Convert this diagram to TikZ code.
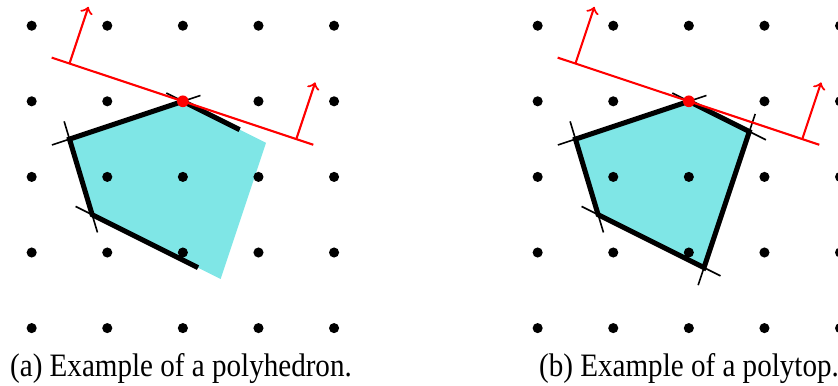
\documentclass[tikz,border=0pt]{standalone}
\usepackage{fontspec}
\setmainfont{Liberation Serif}[FakeStretch=0.89]
\usetikzlibrary{calc}
\definecolor{polyfill}{RGB}{127,230,230}
\tikzset{
  gridpt/.style={fill=black},
  thinline/.style={line width=0.6pt, black},
  edgeline/.style={line width=1.9pt, black},
  halfspace/.style={line width=0.8pt, red},
  normalarrow/.style={line width=0.8pt, red, ->},
  caption/.style={anchor=base, inner sep=0pt, font=\fontsize{12.3}{14}\selectfont},
}
\newcommand{\ext}{0.245cm}
\begin{document}
\begin{tikzpicture}
\useasboundingbox (0,0) rectangle (11.085,-5.093);

% ---------------- left panel: polyhedron ----------------
\begin{scope}[shift={(0.419,-4.340)}]
  \coordinate (aT) at (2,3);
  \coordinate (aL) at (0.5,2.5);
  \coordinate (aLL) at (0.8,1.5);
  \coordinate (aB) at (2.2,0.8);
  \coordinate (aR) at (2.75,2.625);
  \coordinate (aFR) at (3.1,2.45);
  \coordinate (aFB) at (2.5,0.65);
  \fill[polyfill] (aT) -- (aFR) -- (aFB) -- (aLL) -- (aL) -- cycle;
  \foreach \i in {0,...,4} \foreach \j in {0,...,4}
    \fill[gridpt] (\i,\j) circle (1.9pt);
  \draw[thinline] ($(aL)!-\ext!(aT)$) -- ($(aT)!-\ext!(aL)$);
  \draw[thinline] ($(aT)!-\ext!(aR)$) -- (aR);
  \draw[thinline] ($(aL)!-\ext!(aLL)$) -- ($(aLL)!-\ext!(aL)$);
  \draw[thinline] ($(aLL)!-\ext!(aB)$) -- (aB);
  \draw[edgeline] (aR) -- (aT) -- (aL) -- (aLL) -- (aB);
  \coordinate (aH1) at (0.265,3.578);
  \coordinate (aH2) at (3.725,2.425);
  \draw[halfspace] (aH1) -- (aH2);
  \coordinate (aN1) at (0.5,3.5);
  \coordinate (aN1t) at (0.75,4.25);
  \coordinate (aN2) at (3.5,2.5);
  \coordinate (aN2t) at (3.75,3.25);
  \draw[normalarrow] (aN1) -- (aN1t);
  \draw[normalarrow] (aN2) -- (aN2t);
  \fill[red] (aT) circle (2.2pt);
\end{scope}

% ---------------- right panel: polytope ----------------
\begin{scope}[shift={(7.112,-4.340)}]
  \coordinate (bT) at (2,3);
  \coordinate (bR) at (2.8,2.6);
  \coordinate (bB) at (2.2,0.8);
  \coordinate (bLL) at (0.8,1.5);
  \coordinate (bL) at (0.5,2.5);
  \fill[polyfill] (bT) -- (bR) -- (bB) -- (bLL) -- (bL) -- cycle;
  \foreach \i in {0,...,4} \foreach \j in {0,...,4}
    \fill[gridpt] (\i,\j) circle (1.9pt);
  \draw[thinline] ($(bT)!-\ext!(bR)$) -- ($(bR)!-\ext!(bT)$);
  \draw[thinline] ($(bR)!-\ext!(bB)$) -- ($(bB)!-\ext!(bR)$);
  \draw[thinline] ($(bB)!-\ext!(bLL)$) -- ($(bLL)!-\ext!(bB)$);
  \draw[thinline] ($(bLL)!-\ext!(bL)$) -- ($(bL)!-\ext!(bLL)$);
  \draw[thinline] ($(bL)!-\ext!(bT)$) -- ($(bT)!-\ext!(bL)$);
  \draw[edgeline, line join=miter] (bT) -- (bR) -- (bB) -- (bLL) -- (bL) -- cycle;
  \coordinate (bH1) at (0.265,3.578);
  \coordinate (bH2) at (3.725,2.425);
  \draw[halfspace] (bH1) -- (bH2);
  \coordinate (bN1) at (0.5,3.5);
  \coordinate (bN1t) at (0.75,4.25);
  \coordinate (bN2) at (3.5,2.5);
  \coordinate (bN2t) at (3.75,3.25);
  \draw[normalarrow] (bN1) -- (bN1t);
  \draw[normalarrow] (bN2) -- (bN2t);
  \fill[red] (bT) circle (2.2pt);
\end{scope}

\node[caption] (capa) at (2.394,-4.983) {(a) Example of a polyhedron.};
\node[caption] (capb) at (9.114,-4.983) {(b) Example of a polytop.};
\end{tikzpicture}
\end{document}
